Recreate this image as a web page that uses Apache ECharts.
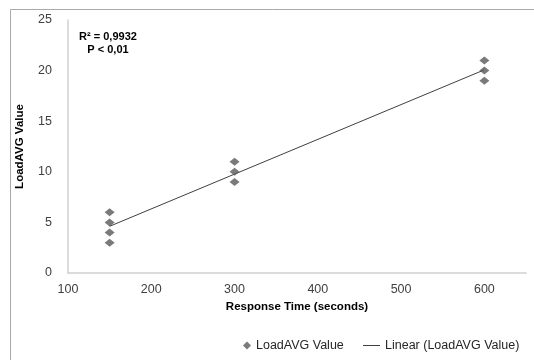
<!DOCTYPE html>
<html>
<head>
<meta charset="utf-8">
<script src="https://cdn.jsdelivr.net/npm/echarts@6/dist/echarts.min.js"></script>
<style>
  html, body { margin: 0; padding: 0; background: #fff; }
  #chart { width: 534px; height: 360px; }
</style>
</head>
<body>
<div id="chart"></div>
<script>
// response time (s) and measured LoadAVG
const responseTime = [150, 150, 150, 150, 300, 300, 300, 600, 600, 600]
const loadAvg = [3, 4, 5, 6, 9, 10, 11, 19, 20, 21]
const xTicks = [100, 200, 300, 400, 500, 600]
const yTicks = [0, 5, 10, 15, 20, 25]
const statsText = ['R² = 0,9932', 'P < 0,01']

// least squares fit for the trendline
const n = responseTime.length
const mx = responseTime.reduce((a, b) => a + b, 0) / n
const my = loadAvg.reduce((a, b) => a + b, 0) / n
let sxy = 0, sxx = 0
responseTime.forEach((x, i) => {
  sxy += (x - mx) * (loadAvg[i] - my)
  sxx += (x - mx) * (x - mx)
})
const slope = sxy / sxx
const intercept = my - slope * mx
const xMin = Math.min(...responseTime)
const xMax = Math.max(...responseTime)
const fitLine = [[xMin, intercept + slope * xMin], [xMax, intercept + slope * xMax]]

const font = 'Liberation Sans'
const chart = echarts.init(document.getElementById('chart'))

chart.setOption({
  animation: false,
  backgroundColor: '#fff',
  textStyle: { fontFamily: font },
  grid: { left: 68, right: 8, top: 20, bottom: 87 },
  graphic: [
    {
      type: 'rect',
      shape: { x: 10.5, y: 9.5, width: 600, height: 400 },
      style: { fill: 'none', stroke: '#aaaaaa', lineWidth: 1 },
      silent: true
    },
    {
      type: 'text',
      x: 108,
      y: 30,
      style: {
        text: statsText.join('\n'),
        font: 'bold 11px "Liberation Sans"',
        fill: '#000',
        align: 'center',
        lineHeight: 13
      }
    }
  ],
  legend: [
    {
      data: ['LoadAVG Value'],
      left: 238,
      top: 334,
      icon: 'diamond',
      itemWidth: 8,
      itemHeight: 8,
      textStyle: { fontSize: 12.5, color: '#262626', fontFamily: font }
    },
    {
      data: [{ name: 'Linear (LoadAVG Value)', icon: 'rect' }],
      left: 358,
      top: 334,
      itemWidth: 17,
      itemHeight: 1,
      itemStyle: { color: '#404040' },
      textStyle: { fontSize: 12.5, color: '#262626', fontFamily: font }
    }
  ],
  xAxis: {
    type: 'value',
    min: 100,
    max: 650,
    interval: 100,
    name: 'Response Time (seconds)',
    nameLocation: 'middle',
    nameGap: 28,
    nameTextStyle: { fontWeight: 'bold', fontSize: 11.5, color: '#000' },
    axisLine: { show: true, lineStyle: { color: '#d0d0d0', width: 1.5 } },
    axisTick: { show: false },
    splitLine: { show: false },
    axisLabel: {
      fontSize: 12.5,
      color: '#404040',
      margin: 10,
      showMaxLabel: false,
      formatter: v => (xTicks.includes(v) ? String(v) : '')
    }
  },
  yAxis: {
    type: 'value',
    min: 0,
    max: 25,
    interval: 5,
    name: 'LoadAVG Value',
    nameLocation: 'middle',
    nameGap: 42,
    nameTextStyle: { fontWeight: 'bold', fontSize: 11.5, color: '#000' },
    axisLine: { show: true, lineStyle: { color: '#d0d0d0', width: 1.5 } },
    axisTick: { show: false },
    splitLine: { show: false },
    axisLabel: {
      fontSize: 12.5,
      color: '#404040',
      margin: 16,
      formatter: v => (yTicks.includes(v) ? String(v) : '')
    }
  },
  series: [
    {
      name: 'LoadAVG Value',
      type: 'scatter',
      symbol: 'diamond',
      symbolSize: [10, 8],
      itemStyle: { color: '#595959' },
      data: responseTime.map((x, i) => [x, loadAvg[i]]),
      z: 3
    },
    {
      name: 'Linear (LoadAVG Value)',
      type: 'line',
      symbol: 'none',
      lineStyle: { color: '#404040', width: 1 },
      itemStyle: { color: '#404040' },
      data: fitLine,
      z: 2
    }
  ]
})
</script>
</body>
</html>
